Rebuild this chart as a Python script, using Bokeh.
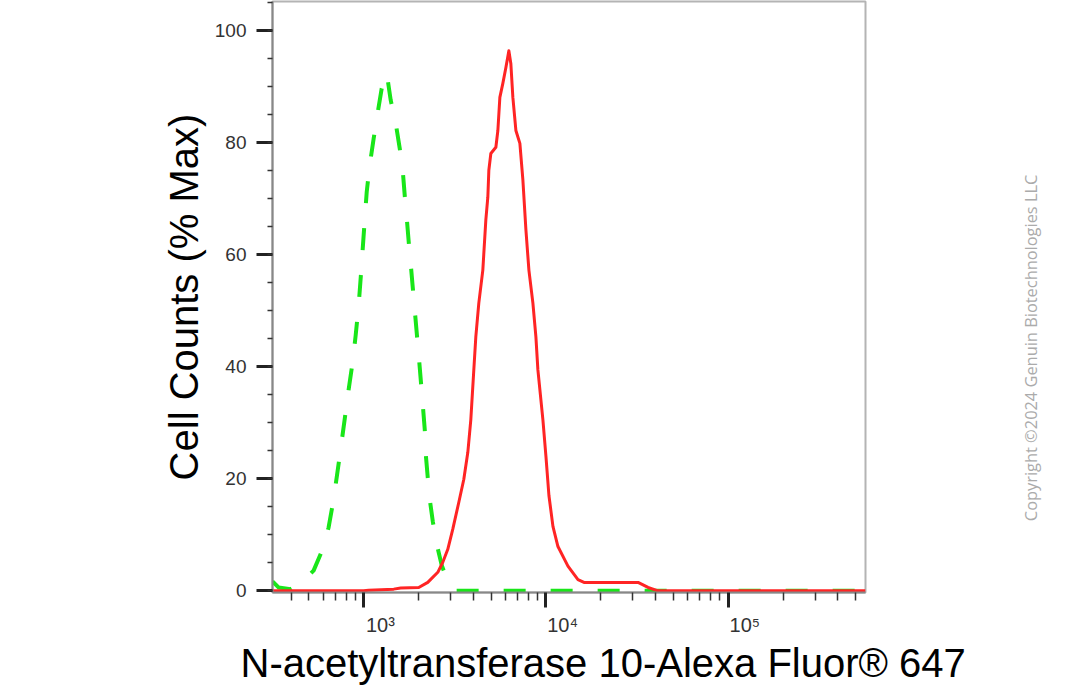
from bokeh.plotting import figure
from bokeh.layouts import row, column
from bokeh.models import FixedTicker, SingleIntervalTicker, Label, Range1d, ColumnDataSource
from bokeh.embed import file_html
from bokeh.resources import INLINE

# ---- data ----
green_x = [316, 341, 397, 451, 531, 595, 642, 676, 711, 747, 786, 827, 870, 904, 939, 963, 987,
           1013, 1039, 1079, 1135, 1194, 1256, 1338, 1407, 1499, 1577, 1638, 1680, 1723, 1767,
           1812, 1858, 1906, 1955, 2006, 2057, 2110, 2164, 2192, 2247, 2305, 2394, 2518, 2683,
           2931, 3203, 10000, 100000, 567000]
green_y = [1.7, 0.6, 0.3, 1.3, 3.6, 7.4, 11.3, 15.4, 20.2, 25.2, 30.5, 35.9, 40.8, 45.6, 51.0,
           55.8, 60.8, 66.1, 71.1, 75.9, 80.7, 85.3, 89.6, 92.3, 87.5, 83.4, 78.9, 75.0, 70.5,
           66.5, 62.2, 58.3, 54.2, 50.1, 46.0, 41.9, 37.6, 33.2, 28.7, 24.3, 20.2, 16.3, 12.4,
           8.3, 4.5, 1.3, 0, 0, 0, 0]

red_x = [316, 1000, 1065, 1462, 1597, 2005, 2247, 2551, 2717, 2894, 3083, 3327, 3544, 3728,
         3871, 4021, 4124, 4283, 4506, 4680, 4800, 4862, 4986, 5313, 5449, 5588, 5803, 6027,
         6261, 6421, 6586, 6842, 7196, 7474, 7765, 8065, 8483, 8811, 9036, 9627, 10000, 10387,
         10927, 11641, 13210, 14993, 16174, 32030, 36350, 41260, 567000]
red_y = [0, 0, 0.1, 0.3, 0.5, 0.6, 1.5, 3.3, 5.1, 7.4, 11.0, 15.8, 19.9, 24.7, 30.5, 39.4,
         45.3, 51.3, 57.2, 66.1, 70.2, 75.0, 78.0, 79.1, 82.1, 88.0, 90.5, 93.3, 96.3, 94.0,
         88.0, 82.1, 79.8, 73.3, 64.4, 57.2, 51.3, 45.3, 39.4, 30.5, 24.0, 17.0, 11.5, 7.9,
         4.4, 2.0, 1.5, 1.5, 0.6, 0, 0]

x_major_ticks = [1000, 10000, 100000]
x_tick_labels = ["10\u00b3", "10\u2074", "10\u2075"]
x_minor_ticks = [m * 10 ** k for k in (2, 3, 4, 5) for m in range(2, 10)]
x_minor_ticks = [t for t in x_minor_ticks if 316 <= t <= 567000]

x_label = "N-acetyltransferase 10-Alexa Fluor\u00ae 647"
y_label = "Cell Counts (% Max)"
copyright_text = "Copyright \u00a92024 Genuin Biotechnologies LLC"

FONT = "Liberation Sans"
PAD = "\u2007\u2007\u2007"   # leading figure spaces nudge tick labels right of their ticks

p = figure(x_axis_type="log", title=None,
           x_range=Range1d(316, 567000), y_range=Range1d(-0.3, 105.1),
           frame_width=593, frame_height=591,
           min_border_left=272, min_border_right=2, min_border_top=1, min_border_bottom=45,
           output_backend="svg", toolbar_location=None)

p.background_fill_color = "white"
p.border_fill_color = "white"
p.outline_line_color = "#b4b4b4"
p.outline_line_width = 2
p.grid.visible = False

green_src = ColumnDataSource(dict(x=green_x, y=green_y))
red_src = ColumnDataSource(dict(x=red_x, y=red_y))

p.line("x", "y", source=green_src, line_color="#19e619", line_width=4,
       line_dash="22 25", line_join="round")
p.line("x", "y", source=red_src, line_color="#ff2424", line_width=3, line_join="round")

# x axis
xa = p.xaxis[0]
xa.ticker = FixedTicker(ticks=x_major_ticks, minor_ticks=x_minor_ticks)
xa.major_label_overrides = {t: PAD + l for t, l in zip(x_major_ticks, x_tick_labels)}
xa.major_label_text_font = FONT
xa.major_label_text_font_size = "20px"
xa.major_label_text_color = "#333333"
xa.major_label_standoff = 6
xa.major_tick_in = 0
xa.major_tick_out = 15
xa.major_tick_line_width = 3
xa.major_tick_line_color = "#222222"
xa.minor_tick_in = 0
xa.minor_tick_out = 8
xa.minor_tick_line_width = 1.5
xa.minor_tick_line_color = "#333333"
xa.axis_line_color = "#888888"
xa.axis_line_width = 2

# y axis
ya = p.yaxis[0]
ya.ticker = SingleIntervalTicker(interval=20, num_minor_ticks=4)
ya.major_label_text_font = FONT
ya.major_label_text_font_size = "19px"
ya.major_label_text_color = "#333333"
ya.major_label_standoff = 10
ya.major_tick_in = 0
ya.major_tick_out = 16
ya.major_tick_line_width = 3
ya.major_tick_line_color = "#222222"
ya.minor_tick_in = 0
ya.minor_tick_out = 5
ya.minor_tick_line_width = 1.5
ya.minor_tick_line_color = "#333333"
ya.axis_line_color = "#888888"
ya.axis_line_width = 2
ya.axis_label = y_label
ya.axis_label_text_font = FONT
ya.axis_label_text_font_size = "40px"
ya.axis_label_text_font_style = "normal"
ya.axis_label_text_color = "black"
ya.axis_label_standoff = 6


def blank(w, h, yspan):
    f = figure(width=w, height=h, title=None, x_range=Range1d(0, w), y_range=Range1d(0, yspan),
               min_border=0, output_backend="svg", toolbar_location=None)
    f.axis.visible = False
    f.grid.visible = False
    f.outline_line_color = None
    f.background_fill_color = "white"
    f.border_fill_color = "white"
    return f


# side panel with the vertical copyright note (its frame aligns with the main frame)
p2 = blank(203, 637, 591)
p2.add_layout(Label(x=163, y=244, text=copyright_text,
                    angle=90, angle_units="deg", text_align="center", text_baseline="middle",
                    text_font="Open Sans", text_font_size="16.4px", text_color="#ababab"))

# bottom strip with the x-axis title
p3 = blank(1070, 47, 47)
p3.add_layout(Label(x=240, y=23, text=x_label, text_align="left", text_baseline="alphabetic",
                    text_font=FONT, text_font_size="40px", text_color="black"))

layout = column(row(p, p2), p3)
open("out.html", "w").write(file_html(layout, INLINE))
